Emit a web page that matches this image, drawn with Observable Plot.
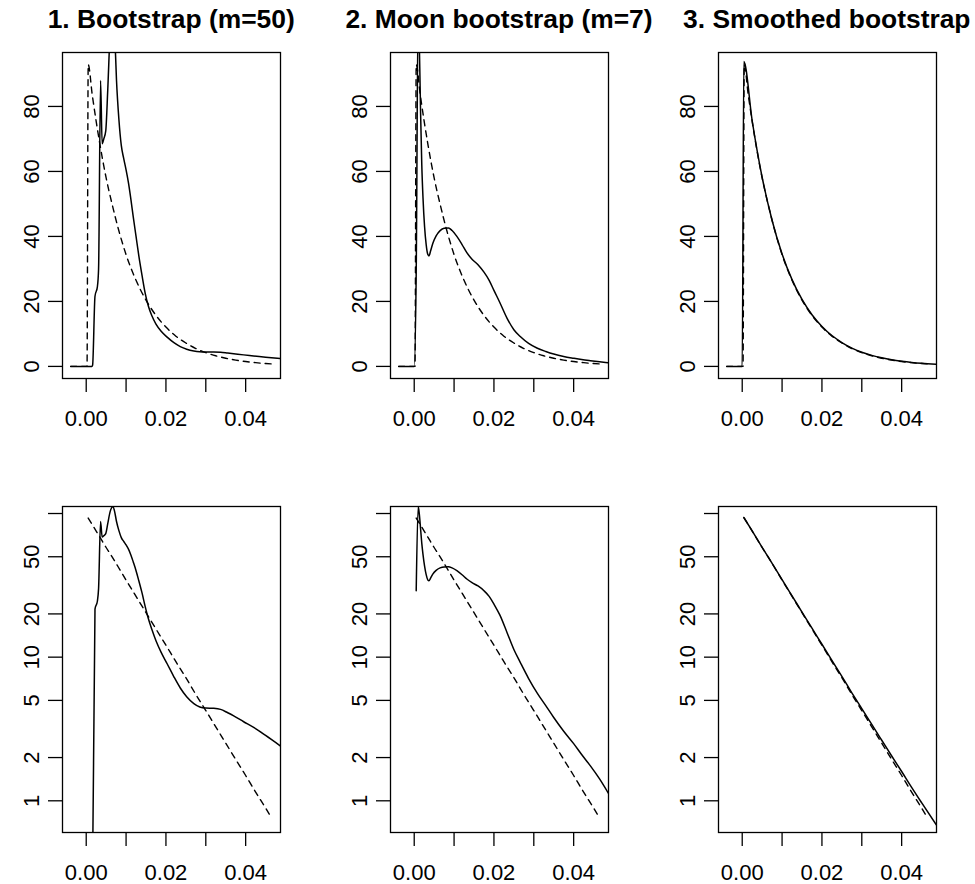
<!DOCTYPE html>
<html><head><meta charset="utf-8">
<script src="https://cdn.jsdelivr.net/npm/d3@7"></script>
<script src="https://cdn.jsdelivr.net/npm/@observablehq/plot@0.6"></script>
<style>
body{margin:0;background:#fff;overflow:hidden}
#fig{position:relative;width:975px;height:884px;overflow:hidden;font-family:"Liberation Sans",Arial,Helvetica,sans-serif;color:#000;background:#fff}
.panel{position:absolute}
.title{position:absolute;font-weight:bold;font-size:26.4px;white-space:nowrap;transform:translateX(-50%);line-height:1}
</style></head><body><div id="fig"></div>
<script>
// ---- data ----
const titles = ["1. Bootstrap (m=50)", "2. Moon bootstrap (m=7)", "3. Smoothed bootstrap"];
const xTicks = [0, 0.01, 0.02, 0.03, 0.04];
const xTickLabels = ["0.00", "", "0.02", "", "0.04"];
const yTicksLinear = [0, 20, 40, 60, 80];
const yTickLinearLabels = ["0", "20", "40", "60", "80"];
const yTicksLog = [1, 2, 5, 10, 20, 50, 100];
const yTickLogLabels = ["1", "2", "5", "10", "20", "50", ""];

// true density (dashed)
const trueX = [-0.0039, 0.0002, 0.0005, 0.0015, 0.0025, 0.0035, 0.005, 0.0065, 0.008, 0.01, 0.0125, 0.015, 0.0175, 0.02, 0.0225, 0.025, 0.0275, 0.03, 0.0325, 0.035, 0.0375, 0.04, 0.0425, 0.045, 0.0465];
const trueY = [0, 0, 92.9, 83.7, 75.4, 67.9, 58.0, 49.9, 42.6, 34.4, 26.5, 20.4, 15.7, 12.1, 9.3, 7.2, 5.5, 4.25, 3.27, 2.52, 1.94, 1.50, 1.15, 0.89, 0.76];

// 1. bootstrap m=50 (solid)
const boot50X = [-0.0039, 0.0014, 0.0016, 0.0022, 0.0028, 0.0031, 0.0036, 0.0040, 0.0044, 0.0049, 0.0054, 0.0060, 0.0067, 0.0071, 0.0076, 0.0082, 0.0088, 0.0094, 0.0100, 0.0106, 0.0112, 0.0118, 0.0125, 0.0132, 0.0140, 0.0148, 0.0156, 0.0165, 0.0175, 0.0188, 0.0203, 0.0220, 0.0236, 0.0252, 0.0270, 0.0285, 0.0300, 0.0320, 0.0337, 0.0355, 0.0370, 0.0395, 0.0420, 0.0450, 0.0487];
const boot50Y = [0, 0, 0.35, 21.6, 24.5, 30, 88, 68.5, 70, 72.5, 85, 103, 112, 104, 88, 76, 68, 64, 60.5, 56.5, 51.5, 46, 40, 34, 28, 22.5, 18.5, 15.5, 13, 10.8, 9.0, 7.3, 6.1, 5.3, 4.75, 4.5, 4.42, 4.40, 4.33, 4.1, 3.9, 3.55, 3.24, 2.85, 2.41];

// 2. moon bootstrap m=7 (solid)
const moon7X = [-0.0039, 0.0000, 0.0005, 0.0010, 0.0013, 0.0016, 0.0019, 0.0022, 0.0026, 0.0030, 0.0034, 0.0037, 0.0041, 0.0047, 0.0055, 0.0065, 0.0075, 0.0086, 0.0095, 0.0107, 0.0120, 0.0132, 0.0145, 0.0160, 0.0175, 0.0188, 0.0200, 0.0215, 0.0233, 0.0250, 0.0266, 0.0287, 0.0309, 0.0330, 0.0350, 0.0375, 0.0400, 0.0420, 0.0442, 0.0465, 0.0487];
const moon7Y = [0, 0, 29, 112, 98, 78, 62, 52, 43, 37.5, 34.5, 34, 35.5, 38, 40.2, 41.8, 42.5, 42.6, 41.8, 40, 37.5, 35, 33, 31.3, 29, 26.5, 23.4, 19.6, 14.8, 11.3, 9.2, 7.1, 5.6, 4.6, 3.8, 3.05, 2.5, 2.1, 1.75, 1.42, 1.13];

// 3. smoothed bootstrap (solid)
const smoothX = [-0.0039, 0.0000, 0.0004, 0.0025, 0.005, 0.0075, 0.01, 0.0125, 0.015, 0.0175, 0.02, 0.0225, 0.025, 0.0275, 0.03, 0.0325, 0.035, 0.0375, 0.04, 0.0425, 0.045, 0.0487];
const smoothY = [0, 0, 93.8, 75.6, 58.2, 44.9, 34.6, 26.7, 20.6, 15.9, 12.3, 9.5, 7.35, 5.65, 4.38, 3.4, 2.64, 2.05, 1.6, 1.24, 0.97, 0.68];

// ---- layout ----
const xDomain = [-0.00595, 0.04874];
const yLinDomain = [-3.72, 96.6];
const yLogDomain = [0.6016, 111.9];
const colLeft = [62.2, 390.0, 717.8];
const rowTop = [52.3, 505.7];
const boxW = 218, boxH = 326;
const mL = 60, mR = 10, mT = 10, mB = 56;
const FONT = '"Liberation Sans", Arial, Helvetica, sans-serif';

const toRows = (xs, ys) => xs.map((x, i) => ({x, y: ys[i]}));
const trueRows = toRows(trueX, trueY);
const solids = [toRows(boot50X, boot50Y), toRows(moon7X, moon7Y), toRows(smoothX, smoothY)];

const xLab = new Map(xTicks.map((t, i) => [t, xTickLabels[i]]));
const yLinRows = yTicksLinear.map((t, i) => ({v: t, label: yTickLinearLabels[i]}));
const yLogRows = yTicksLog.map((t, i) => ({v: t, label: yTickLogLabels[i]}));

const fig = document.getElementById("fig");

titles.forEach((t, c) => {
  const d = document.createElement("div");
  d.className = "title";
  d.textContent = t;
  d.style.left = (colLeft[c] + boxW / 2) + "px";
  d.style.top = "6px";
  fig.appendChild(d);
});

for (let r = 0; r < 2; r++) {
  const isLog = r === 1;
  for (let c = 0; c < 3; c++) {
    const filt = isLog ? (d => d.y > 0) : null;
    const chart = Plot.plot({
      width: mL + boxW + mR,
      height: mT + boxH + mB,
      marginLeft: mL, marginRight: mR, marginTop: mT, marginBottom: mB,
      style: {fontFamily: FONT, fontSize: "22px", color: "black", background: "transparent", overflow: "visible"},
      x: {domain: xDomain, label: null},
      y: isLog ? {type: "log", domain: yLogDomain, label: null} : {domain: yLinDomain, label: null},
      marks: [
        Plot.axisX({ticks: xTicks, tickFormat: d => xLab.get(d) ?? "", tickSize: 14, tickPadding: 18, strokeWidth: 1.3, fontSize: 22, label: null}),
        Plot.axisY({ticks: isLog ? yTicksLog : yTicksLinear, tickFormat: () => "",
          tickSize: 14, tickPadding: 10, strokeWidth: 1.3, label: null}),
        Plot.text(isLog ? yLogRows : yLinRows, {frameAnchor: "left", y: "v", text: "label", rotate: -90,
          dx: -24, textAnchor: "middle", lineAnchor: "bottom", fontSize: 22, fill: "black"}),
        Plot.line(trueRows, {x: "x", y: "y", filter: filt, curve: "monotone-x", stroke: "black", strokeWidth: 1.4, strokeDasharray: "6,5", clip: true}),
        Plot.line(solids[c], {x: "x", y: "y", filter: filt, curve: "monotone-x", stroke: "black", strokeWidth: 1.5, clip: true}),
        Plot.frame({stroke: "black", strokeWidth: 1.3})
      ]
    });
    chart.classList.add("panel");
    chart.style.left = (colLeft[c] - mL) + "px";
    chart.style.top = (rowTop[r] - mT) + "px";
    fig.appendChild(chart);
  }
}
</script>
</body></html>
